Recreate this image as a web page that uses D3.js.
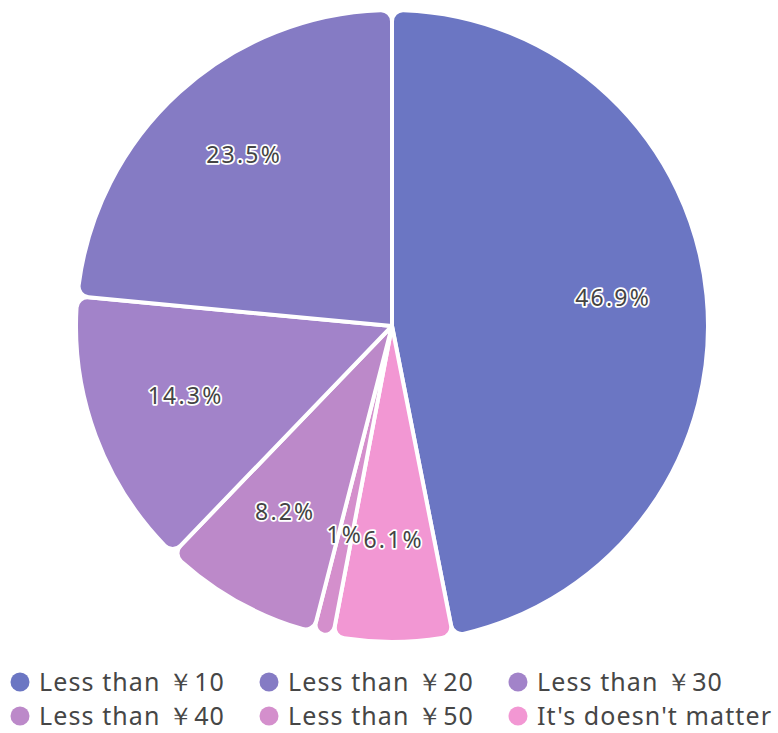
<!DOCTYPE html>
<html><head><meta charset="utf-8">
<script src="https://cdn.jsdelivr.net/npm/d3@7"></script>
<style>html,body{margin:0;padding:0;background:#fff;}svg{display:block;}</style>
</head><body>
<svg id="chart" width="778" height="733"></svg>
<script>
const categories = ["Less than ￥10", "Less than ￥20", "Less than ￥30", "Less than ￥40", "Less than ￥50", "It's doesn't matter"];
const values = [46.9, 23.5, 14.3, 8.2, 1, 6.1];
const labels = ["46.9%", "23.5%", "14.3%", "8.2%", "1%", "6.1%"];
const colors = ["#6b76c3", "#857bc4", "#a283c9", "#bc89c9", "#d48fcc", "#f297d3"];
const drawOrder = [0, 5, 4, 3, 2, 1];

const svg = d3.select("#chart");
const cx = 392, cy = 326, R = 316;
const g = svg.append("g").attr("transform", `translate(${cx},${cy})`);

const data = drawOrder.map(i => ({i, cat: categories[i], v: values[i], label: labels[i], color: colors[i]}));
const pie = d3.pie().sort(null).value(d => d.v);
const arcs = pie(data);
const arc = d3.arc().innerRadius(0).outerRadius(R).cornerRadius(11);

g.selectAll("path.slice").data(arcs).join("path")
  .attr("class", "slice")
  .attr("d", arc)
  .attr("fill", d => d.data.color)
  .attr("stroke", "#fff")
  .attr("stroke-width", 4)
  .attr("stroke-linejoin", "round");

const lr = 0.7 * R;
g.selectAll("text.lbl").data(arcs).join("text")
  .attr("class", "lbl")
  .attr("x", d => { const a = (d.startAngle + d.endAngle) / 2; return Math.sin(a) * lr + 1; })
  .attr("y", d => { const a = (d.startAngle + d.endAngle) / 2; return -Math.cos(a) * lr - 8; })
  .attr("text-anchor", "middle")
  .attr("dominant-baseline", "central")
  .attr("font-family", "'Noto Sans', 'Open Sans', sans-serif")
  .attr("font-size", 23)
  .attr("letter-spacing", 2.2)
  .attr("fill", "#444")
  .attr("stroke", "#fff")
  .attr("stroke-width", 3.5)
  .attr("paint-order", "stroke")
  .attr("stroke-linejoin", "round")
  .text(d => d.data.label);

// Legend
const legend = svg.append("g");
const colX = [20, 269, 518];
const rowY = [681, 715];
categories.forEach((c, i) => {
  const x = colX[i % 3], y = rowY[Math.floor(i / 3)];
  legend.append("circle").attr("cx", x).attr("cy", y + 1).attr("r", 9.5).attr("fill", colors[i]);
  legend.append("text").attr("x", x + 19).attr("y", y)
    .attr("dominant-baseline", "central")
    .attr("font-family", "'Noto Sans', 'Open Sans', sans-serif")
    .attr("font-size", 25)
    .attr("letter-spacing", 1.1)
    .attr("fill", "#464646")
    .text(c);
});
</script>
</body></html>
